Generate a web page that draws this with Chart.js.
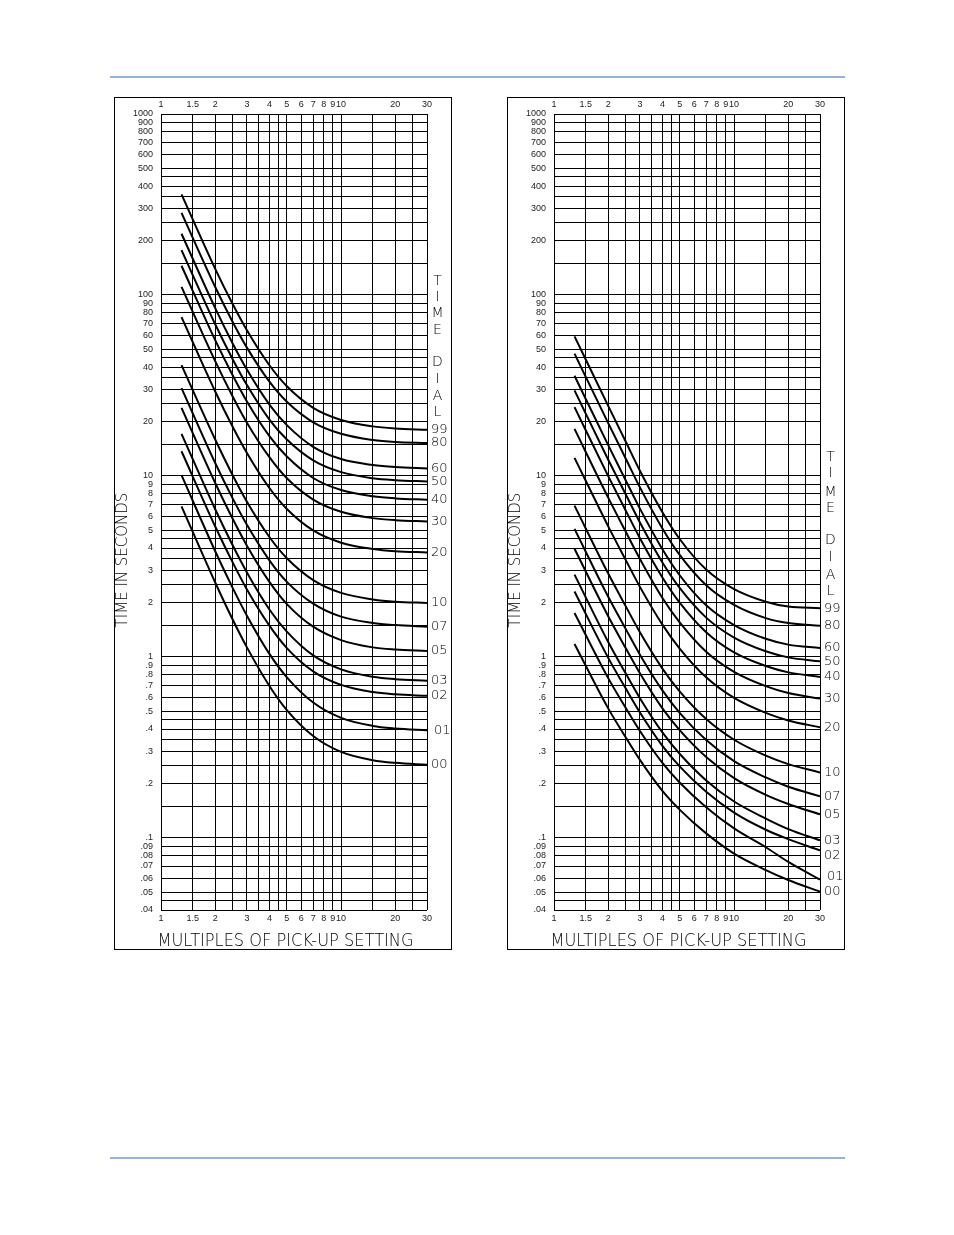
<!DOCTYPE html>
<html>
<head>
<meta charset="utf-8">
<script src="https://cdn.jsdelivr.net/npm/chart.js@4.4.1/dist/chart.umd.min.js"></script>
<style>
html,body{margin:0;padding:0;background:#fff;}
body{width:954px;height:1235px;position:relative;overflow:hidden;}
.rule{position:absolute;left:110px;width:735px;height:2px;background:#95b3d7;}
.box{position:absolute;top:97px;width:338px;height:853px;border:1px solid #000;box-sizing:border-box;}
.box canvas{position:absolute;left:0;top:0;}
</style>
</head>
<body>
<div class="rule" style="top:76px"></div>
<div class="rule" style="top:1157px"></div>
<div class="box" style="left:114px"><canvas id="leftChart" width="336" height="851" style="width:336px;height:851px"></canvas></div>
<div class="box" style="left:507px"><canvas id="rightChart" width="336" height="851" style="width:336px;height:851px"></canvas></div>
<script>
// ---------- data ----------
const multiples = [1.3, 2, 2.5, 3, 4, 5, 7, 10, 15, 20, 30];
const dialLabels = ['99','80','60','50','40','30','20','10','07','05','03','02','01','00'];

// left chart curves (time in seconds at each multiple)
const L99 = [360, 139.5, 89.1, 63.8, 40.9, 31.3, 23.8, 20.4, 18.8, 18.3, 18.0];
const L80 = [284, 110.7, 71.0, 51.2, 33.2, 25.7, 19.8, 17.1, 15.8, 15.4, 15.2];
const L60 = [218, 84.6, 54.0, 38.7, 24.8, 19.1, 14.5, 12.4, 11.5, 11.2, 11.0];
const L50 = [177, 68.9, 44.2, 31.8, 20.5, 15.9, 12.2, 10.5, 9.71, 9.48, 9.33];
const L40 = [145, 56.3, 36.0, 25.8, 16.6, 12.8, 9.75, 8.36, 7.72, 7.52, 7.40];
const L30 = [111, 43.1, 27.5, 19.7, 12.7, 9.71, 7.41, 6.34, 5.85, 5.70, 5.61];
const L20 = [75.5, 29.3, 18.7, 13.4, 8.58, 6.57, 5.00, 4.28, 3.95, 3.84, 3.78];
const L10 = [41.0, 15.9, 10.1, 7.21, 4.60, 3.51, 2.66, 2.26, 2.08, 2.02, 1.99];
const L07 = [30.6, 11.8, 7.52, 5.37, 3.42, 2.60, 1.97, 1.67, 1.54, 1.50, 1.47];
const L05 = [23.8, 9.15, 5.80, 4.12, 2.60, 1.96, 1.47, 1.24, 1.13, 1.10, 1.08];
const L03 = [17.1, 6.55, 4.14, 2.93, 1.83, 1.38, 1.02, 0.854, 0.777, 0.754, 0.74];
const L02 = [13.7, 5.26, 3.33, 2.36, 1.49, 1.12, 0.833, 0.701, 0.640, 0.622, 0.61];
const L01 = [10.1, 3.84, 2.41, 1.69, 1.04, 0.772, 0.560, 0.461, 0.416, 0.403, 0.394];
const L00 = [6.8, 2.58, 1.61, 1.13, 0.692, 0.509, 0.366, 0.299, 0.269, 0.260, 0.254];

// right chart curves
const R99 = [59.1, 24.4, 15.5, 10.7, 6.31, 4.47, 3.04, 2.37, 2.02, 1.90, 1.86];
const R80 = [47.4, 19.6, 12.5, 8.65, 5.13, 3.65, 2.49, 1.94, 1.64, 1.54, 1.49];
const R60 = [35.8, 14.8, 9.48, 6.60, 3.94, 2.82, 1.93, 1.50, 1.26, 1.17, 1.12];
const R50 = [29.7, 12.3, 7.93, 5.54, 3.33, 2.40, 1.65, 1.28, 1.075, 0.995, 0.946];
const R40 = [24.0, 9.99, 6.45, 4.53, 2.75, 1.99, 1.37, 1.06, 0.891, 0.822, 0.776];
const R30 = [18.2, 7.59, 4.93, 3.48, 2.12, 1.55, 1.07, 0.828, 0.690, 0.632, 0.589];
const R20 = [12.6, 5.27, 3.44, 2.44, 1.51, 1.11, 0.772, 0.594, 0.491, 0.446, 0.409];
const R10 = [6.86, 2.89, 1.91, 1.37, 0.863, 0.643, 0.454, 0.349, 0.285, 0.256, 0.230];
const R07 = [5.1, 2.15, 1.43, 1.03, 0.654, 0.490, 0.348, 0.266, 0.216, 0.192, 0.170];
const R05 = [3.96, 1.68, 1.12, 0.813, 0.520, 0.393, 0.280, 0.214, 0.173, 0.154, 0.135];
const R03 = [2.85, 1.21, 0.812, 0.592, 0.383, 0.291, 0.208, 0.159, 0.128, 0.112, 0.097];
const R02 = [2.30, 0.989, 0.671, 0.494, 0.323, 0.248, 0.180, 0.138, 0.111, 0.0985, 0.0854];
const R01 = [1.75, 0.764, 0.524, 0.390, 0.260, 0.202, 0.148, 0.113, 0.0889, 0.0737, 0.0589];
const R00 = [1.18, 0.52, 0.36, 0.27, 0.182, 0.143, 0.106, 0.082, 0.0665, 0.0586, 0.0505];

const leftCurves = [L99, L80, L60, L50, L40, L30, L20, L10, L07, L05, L03, L02, L01, L00];
const rightCurves = [R99, R80, R60, R50, R40, R30, R20, R10, R07, R05, R03, R02, R01, R00];

// axes
const xGridValues = [1, 1.5, 2, 2.5, 3, 3.5, 4, 4.5, 5, 6, 7, 8, 9, 10, 15, 20, 25, 30];
const xTickLabelValues = [1, 1.5, 2, 3, 4, 5, 6, 7, 8, 9, 10, 20, 30];
const yGridValues = [0.04, 0.045, 0.05, 0.06, 0.07, 0.08, 0.09,
  0.1, 0.15, 0.2, 0.25, 0.3, 0.35, 0.4, 0.45, 0.5, 0.6, 0.7, 0.8, 0.9,
  1, 1.5, 2, 2.5, 3, 3.5, 4, 4.5, 5, 6, 7, 8, 9,
  10, 15, 20, 25, 30, 35, 40, 45, 50, 60, 70, 80, 90,
  100, 150, 200, 250, 300, 350, 400, 450, 500, 600, 700, 800, 900, 1000];
const yTickLabelValues = [0.04, 0.05, 0.06, 0.07, 0.08, 0.09, 0.1, 0.2, 0.3, 0.4, 0.5, 0.6, 0.7, 0.8, 0.9,
  1, 2, 3, 4, 5, 6, 7, 8, 9, 10, 20, 30, 40, 50, 60, 70, 80, 90,
  100, 200, 300, 400, 500, 600, 700, 800, 900, 1000];
const yTickLabelTexts = ['.04', '.05', '.06', '.07', '.08', '.09', '.1', '.2', '.3', '.4', '.5', '.6', '.7', '.8', '.9',
  '1', '2', '3', '4', '5', '6', '7', '8', '9', '10', '20', '30', '40', '50', '60', '70', '80', '90',
  '100', '200', '300', '400', '500', '600', '700', '800', '900', '1000'];

const xTitle = 'MULTIPLES OF PICK-UP SETTING';
const yTitle = 'TIME IN SECONDS';
const dialTitle = ['T', 'I', 'M', 'E', 'D', 'I', 'A', 'L'];

// ---------- drawing ----------
const thinFont = '"DejaVu Sans", sans-serif';
const tickFont = { family: '"Liberation Sans", Arial, sans-serif', size: 9 };

function near(a, b) { return Math.abs(a - b) < 1e-9 * Math.max(1, Math.abs(b)); }

const decor = {
  id: 'decor',
  afterDatasetsDraw(chart, args, opts) {
    const ctx = chart.ctx, a = chart.chartArea;
    ctx.save();
    ctx.fillStyle = '#000';
    ctx.font = '200 13px ' + thinFont;
    ctx.textAlign = 'left';
    ctx.textBaseline = 'middle';
    chart.data.datasets.forEach((ds, i) => {
      const meta = chart.getDatasetMeta(i);
      const pt = meta.data[meta.data.length - 1];
      const dy = (opts.dy && opts.dy[ds.label]) || 0;
      const dx = (opts.dx && opts.dx[ds.label]) || 0;
      ctx.fillText(ds.label, a.right + 4 + dx, pt.y + dy);
    });
    ctx.font = '200 14px ' + thinFont;
    ctx.textAlign = 'center';
    dialTitle.forEach((ch, i) => ctx.fillText(ch, a.right + 10.5, opts.letterY[i]));
    ctx.font = '200 17px ' + thinFont;
    ctx.textBaseline = 'alphabetic';
    ctx.fillText(xTitle, 170.5, 847.5, 256);
    ctx.translate(11.7, 462);
    ctx.rotate(-Math.PI / 2);
    ctx.font = '200 15px ' + thinFont;
    ctx.fillText(yTitle, 0, 0, 136);
    ctx.restore();
  }
};

function xScale(position, showGrid, pad) {
  return {
    type: 'logarithmic', position: position, min: 1, max: 30,
    afterBuildTicks: s => { s.ticks = xGridValues.map(v => ({ value: v })); },
    afterFit: s => { s.height = position === 'top' ? 16 : 39; },
    grid: { display: showGrid, color: '#000', lineWidth: 1, drawTicks: false },
    border: { display: false },
    ticks: {
      autoSkip: false, maxRotation: 0, minRotation: 0, padding: pad,
      color: '#222', font: tickFont,
      callback: v => xTickLabelValues.some(t => near(t, v)) ? String(v) : ''
    }
  };
}

function makeChart(id, curves, letterY, dy, dx) {
  const datasets = curves.map((vals, i) => ({
    label: dialLabels[i],
    data: multiples.map((m, j) => ({ x: m, y: vals[j] })),
    borderColor: '#000', borderWidth: 2, pointRadius: 0, fill: false,
    cubicInterpolationMode: 'monotone', xAxisID: 'x', yAxisID: 'y'
  }));
  return new Chart(document.getElementById(id), {
    type: 'line',
    data: { datasets },
    options: {
      responsive: false, animation: false, devicePixelRatio: 1,
      layout: { padding: { left: 0, right: 24, top: 0, bottom: 0 } },
      plugins: { legend: { display: false }, tooltip: { enabled: false },
        decor: { letterY, dy, dx } },
      scales: {
        x: xScale('bottom', true, 3),
        x2: xScale('top', false, 4),
        y: {
          type: 'logarithmic', position: 'left', min: 0.04, max: 1000,
          afterBuildTicks: s => { s.ticks = yGridValues.map(v => ({ value: v })); },
          afterFit: s => { s.width = 46; },
          grid: { color: '#000', lineWidth: 1, drawTicks: false },
          border: { display: false },
          ticks: {
            autoSkip: false, padding: 8, color: '#222', font: tickFont,
            callback: v => {
              const k = yTickLabelValues.findIndex(t => near(t, v));
              return k >= 0 ? yTickLabelTexts[k] : '';
            }
          }
        }
      }
    },
    plugins: [decor]
  });
}

makeChart('leftChart', leftCurves, [183, 199, 215, 232, 264, 281, 298, 314], {}, { '01': 3 });
makeChart('rightChart', rightCurves, [359, 375, 394, 410, 442, 459, 477, 493], { '02': 5, '01': -3 }, { '01': 3 });
</script>
</body>
</html>
